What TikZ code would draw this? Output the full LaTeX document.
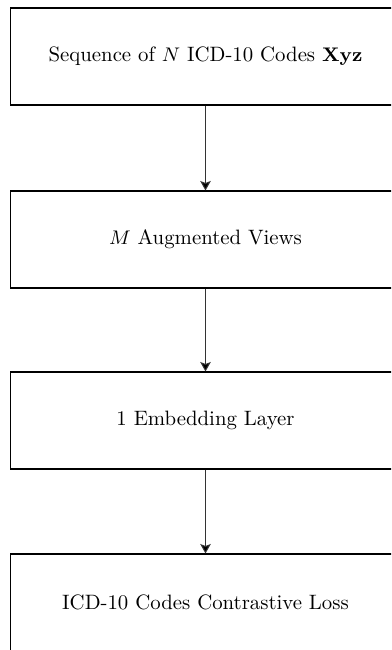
\documentclass[tikz,border=0pt]{standalone}
\usetikzlibrary{arrows.meta}
\begin{document}
\begin{tikzpicture}[x=0.4566pt, y=-0.4566pt,
  stagebox/.style={draw=black, line width=0.5pt, fill=white,
    minimum width=178.1pt, minimum height=44.3pt, inner sep=0pt,
    font=\fontsize{9.5}{11.5}\selectfont},
  flow/.style={draw=black!80, line width=0.45pt,
    -{Stealth[length=4.3pt, width=4.8pt, inset=0.9pt, fill=black]}}]
  \useasboundingbox (0,0) rectangle (391,650);
  \clip (0,0) rectangle (391,650);

  \node[stagebox] (seq)  at (205.5, 56.5)  {Sequence of $N$ ICD-10 Codes $\mathbf{Xyz}$};
  \node[stagebox] (aug)  at (205.5, 239.5) {$M$ Augmented Views};
  \node[stagebox] (emb)  at (205.5, 420.5) {1 Embedding Layer};
  \node[stagebox] (loss) at (205.5, 602.5) {ICD-10 Codes Contrastive Loss};

  \draw[flow] (seq.south)  -- (aug.north);
  \draw[flow] (aug.south)  -- (emb.north);
  \draw[flow] (emb.south)  -- (loss.north);
\end{tikzpicture}
\end{document}
